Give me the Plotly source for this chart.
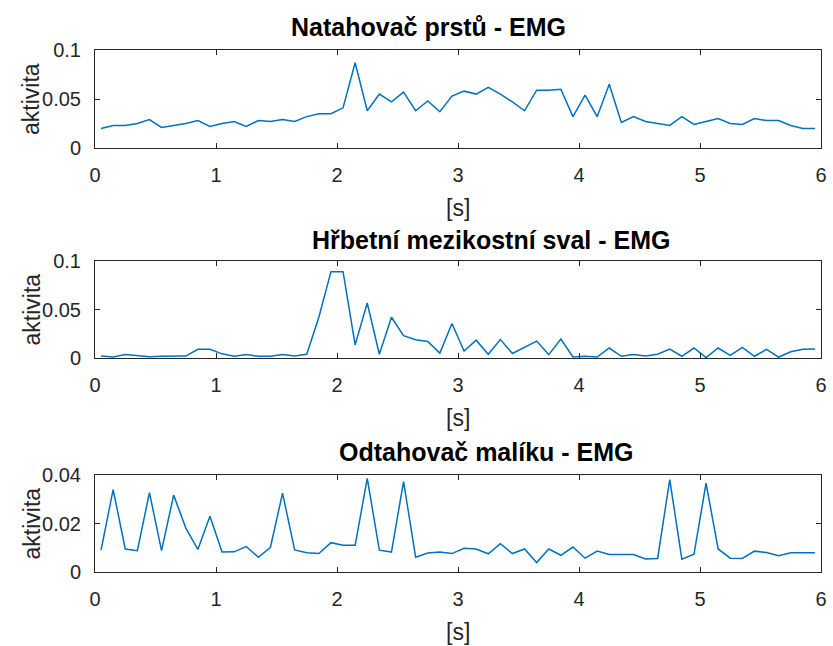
import plotly.graph_objects as go

# time axis [s]
time_s = [round(0.05 + 0.1 * k, 2) for k in range(60)]

# Natahovač prstů
extensor = [0.020, 0.023, 0.023, 0.025, 0.029, 0.021, 0.023, 0.025, 0.028, 0.022,
            0.025, 0.027, 0.022, 0.028, 0.027, 0.029, 0.027, 0.032, 0.035, 0.035,
            0.041, 0.087, 0.038, 0.055, 0.047, 0.057, 0.038, 0.048, 0.037, 0.053,
            0.058, 0.055, 0.062, 0.055, 0.047, 0.038, 0.059, 0.059, 0.060, 0.032,
            0.054, 0.032, 0.065, 0.026, 0.032, 0.027, 0.025, 0.023, 0.032, 0.024,
            0.027, 0.030, 0.025, 0.024, 0.030, 0.028, 0.028, 0.023, 0.020, 0.020]

# Hřbetní mezikostní sval
interosseous = [0.0021, 0.0010, 0.0035, 0.0025, 0.0014, 0.0018, 0.0018, 0.0020, 0.0089, 0.0089,
                0.0043, 0.0018, 0.0035, 0.0018, 0.0018, 0.0035, 0.0020, 0.0039, 0.0420, 0.0890,
                0.0890, 0.0135, 0.0567, 0.0039, 0.0420, 0.0230, 0.0188, 0.0170, 0.0050, 0.0355,
                0.0071, 0.0184, 0.0039, 0.0190, 0.0046, 0.0110, 0.0174, 0.0035, 0.0195, 0.0010,
                0.0018, 0.0010, 0.0103, 0.0018, 0.0035, 0.0020, 0.0039, 0.0092, 0.0018, 0.0103,
                0.0004, 0.0103, 0.0028, 0.0110, 0.0018, 0.0089, 0.0010, 0.0064, 0.0089, 0.0092]

# Odtahovač malíku
abductor = [0.0090, 0.0340, 0.0095, 0.0088, 0.0327, 0.0088, 0.0317, 0.0182, 0.0093, 0.0230,
            0.0082, 0.0083, 0.0105, 0.0061, 0.0102, 0.0325, 0.0091, 0.0079, 0.0076, 0.0121,
            0.0110, 0.0110, 0.0386, 0.0090, 0.0082, 0.0373, 0.0061, 0.0078, 0.0082, 0.0076,
            0.0098, 0.0095, 0.0075, 0.0117, 0.0076, 0.0095, 0.0039, 0.0095, 0.0069, 0.0103,
            0.0057, 0.0086, 0.0072, 0.0071, 0.0072, 0.0054, 0.0056, 0.0381, 0.0053, 0.0073,
            0.0366, 0.0095, 0.0057, 0.0056, 0.0086, 0.0080, 0.0067, 0.0079, 0.0079, 0.0079]

titles = ["Natahovač prstů - EMG", "Hřbetní mezikostní sval - EMG", "Odtahovač malíku - EMG"]
series = [extensor, interosseous, abductor]
y_ranges = [[0, 0.1], [0, 0.1], [0, 0.04]]
y_ticks = [[0, 0.05, 0.1], [0, 0.05, 0.1], [0, 0.02, 0.04]]
y_ticktext = [["0", "0.05", "0.1"], ["0", "0.05", "0.1"], ["0", "0.02", "0.04"]]
x_ticks = [0, 1, 2, 3, 4, 5, 6]

W, H = 833, 646
# pixel layout of axes boxes (left, right, top, bottom)
x_left, x_right = 95, 821
boxes = [(50, 148), (261, 358), (475, 572)]
title_centers = [(428, 27), (491, 240), (486, 452)]

def py(p):
    return 1 - p / H

fig = go.Figure()
tick_font = dict(family="Liberation Sans, Arial, sans-serif", size=20, color="#262626")
label_font = dict(family="Liberation Sans, Arial, sans-serif", size=23, color="#262626")
title_font = dict(family="Liberation Sans, Arial, sans-serif", size=25, color="#000000")
axis_col = "#262626"

annotations = []
for i, (vals, (top, bot)) in enumerate(zip(series, boxes)):
    n = i + 1
    xa = "x" if n == 1 else f"x{n}"
    ya = "y" if n == 1 else f"y{n}"
    fig.add_trace(go.Scatter(x=time_s, y=vals, mode="lines",
                             line=dict(color="#0072BD", width=1.5),
                             xaxis=xa, yaxis=ya, showlegend=False,
                             hoverinfo="x+y"))
    common = dict(showline=True, linecolor=axis_col, linewidth=1, mirror="ticks",
                  ticks="inside", ticklen=5, tickcolor=axis_col, tickwidth=1,
                  showgrid=False, zeroline=False, tickfont=tick_font,
                  automargin=False, fixedrange=True)
    fig.update_layout(**{
        ("xaxis" if n == 1 else f"xaxis{n}"): dict(
            domain=[x_left / W, x_right / W], range=[0, 6], tickvals=x_ticks,
            anchor=ya, ticklabelstandoff=9, **common),
        ("yaxis" if n == 1 else f"yaxis{n}"): dict(
            domain=[py(bot), py(top)], range=y_ranges[i], tickvals=y_ticks[i],
            ticktext=y_ticktext[i], anchor=xa, ticklabelstandoff=9, **common),
    })
    tx, ty = title_centers[i]
    annotations.append(dict(text=f"<b>{titles[i]}</b>", x=tx / W, y=py(ty),
                            xref="paper", yref="paper", showarrow=False,
                            xanchor="center", yanchor="middle", font=title_font))
    annotations.append(dict(text="[s]", x=(x_left + x_right) / 2 / W, y=py(bot + 60),
                            xref="paper", yref="paper", showarrow=False,
                            xanchor="center", yanchor="middle", font=label_font))
    annotations.append(dict(text="aktivita", x=31 / W, y=py((top + bot) / 2),
                            xref="paper", yref="paper", showarrow=False, textangle=-90,
                            xanchor="center", yanchor="middle", font=label_font))

fig.update_layout(width=W, height=H, margin=dict(l=0, r=0, t=0, b=0),
                  paper_bgcolor="white", plot_bgcolor="white",
                  annotations=annotations)

fig.write_html("out.html", config={"displayModeBar": False},
               post_script="document.body.style.margin='0px';document.body.style.overflow='hidden';")
